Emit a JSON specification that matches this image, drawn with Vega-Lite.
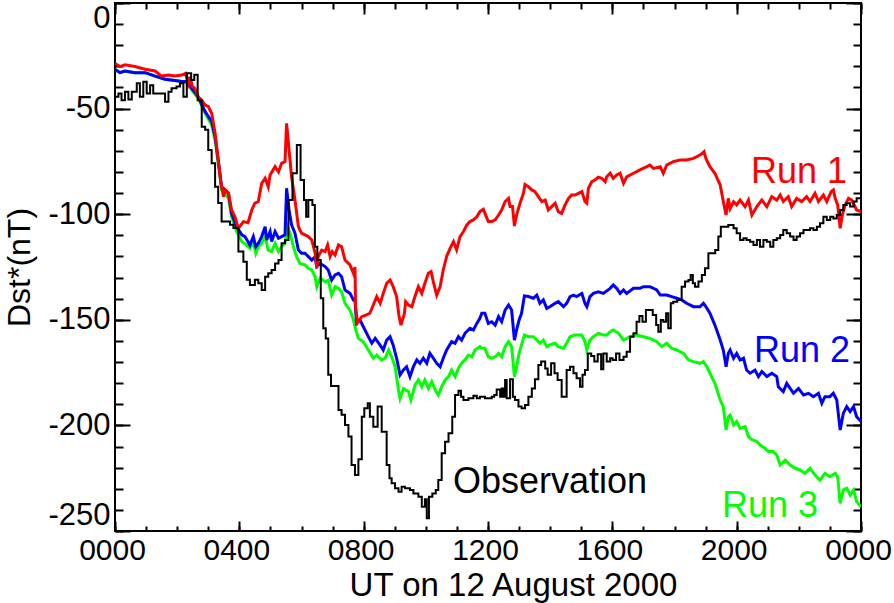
{
  "$schema": "https://vega.github.io/schema/vega-lite/v6.json",
  "width": 746,
  "height": 528,
  "autosize": {"type": "none"},
  "padding": {"left": 115, "top": 3, "right": 33, "bottom": 72},
  "background": "white",
  "config": {
    "font": "Liberation Sans",
    "view": {"stroke": "black", "strokeWidth": 2},
    "axis": {"domain": false, "grid": false, "tickColor": "black", "tickWidth": 2, "labelColor": "black", "titleColor": "black", "titleFontWeight": "normal", "labelFont": "Liberation Sans", "titleFont": "Liberation Sans"}
  },
  "datasets": {
    "run1": [
      {"h":0,"v":-28.6},{"h":0.16,"v":-30.1},{"h":0.32,"v":-29.3},{"h":0.64,"v":-30.1},{"h":0.97,"v":-31.4},{"h":1.29,"v":-32.2},{"h":1.5,"v":-34.6},{"h":1.72,"v":-34.1},{"h":1.93,"v":-34.6},{"h":2.15,"v":-34.1},{"h":2.27,"v":-33.3},{"h":2.36,"v":-38},{"h":2.41,"v":-35},{"h":2.49,"v":-39.5},{"h":2.57,"v":-40.4},{"h":2.68,"v":-44.4},{"h":2.79,"v":-46},{"h":2.9,"v":-48.3},{"h":3.0,"v":-49},{"h":3.11,"v":-52.2},{"h":3.22,"v":-61.7},{"h":3.32,"v":-74.3},{"h":3.41,"v":-85.4},{"h":3.49,"v":-91.7},{"h":3.54,"v":-88.5},{"h":3.65,"v":-90},{"h":3.75,"v":-98},{"h":3.86,"v":-101.2},{"h":3.97,"v":-106.7},{"h":4.13,"v":-103.5},{"h":4.28,"v":-104},{"h":4.4,"v":-98},{"h":4.5,"v":-94.8},{"h":4.61,"v":-94},{"h":4.72,"v":-85.4},{"h":4.83,"v":-83},{"h":4.93,"v":-87},{"h":4.99,"v":-81.4},{"h":5.15,"v":-77.5},{"h":5.26,"v":-80},{"h":5.36,"v":-75.9},{"h":5.47,"v":-75.1},{"h":5.52,"v":-57},{"h":5.6,"v":-69.6},{"h":5.68,"v":-82.2},{"h":5.79,"v":-93.3},{"h":5.9,"v":-105.9},{"h":6.0,"v":-109},{"h":6.11,"v":-109.8},{"h":6.22,"v":-110.6},{"h":6.33,"v":-112.2},{"h":6.44,"v":-118.5},{"h":6.49,"v":-125.6},{"h":6.54,"v":-120},{"h":6.65,"v":-117},{"h":6.76,"v":-117.7},{"h":6.84,"v":-114.6},{"h":6.92,"v":-120},{"h":6.99,"v":-117.7},{"h":7.08,"v":-119.3},{"h":7.19,"v":-114.6},{"h":7.29,"v":-115.4},{"h":7.4,"v":-121.7},{"h":7.56,"v":-124},{"h":7.67,"v":-128},{"h":7.72,"v":-125},{"h":7.74,"v":-143.8},{"h":7.8,"v":-151.5},{"h":7.94,"v":-148.5},{"h":8.09,"v":-147.7},{"h":8.2,"v":-146.9},{"h":8.31,"v":-143},{"h":8.42,"v":-139},{"h":8.53,"v":-142.2},{"h":8.63,"v":-137.5},{"h":8.74,"v":-132.7},{"h":8.85,"v":-131.2},{"h":8.95,"v":-134.3},{"h":9.06,"v":-139},{"h":9.14,"v":-148.5},{"h":9.2,"v":-152.5},{"h":9.31,"v":-147},{"h":9.35,"v":-141.4},{"h":9.44,"v":-143},{"h":9.55,"v":-143.8},{"h":9.65,"v":-139},{"h":9.76,"v":-134.3},{"h":9.87,"v":-137.5},{"h":9.97,"v":-132.7},{"h":10.08,"v":-128},{"h":10.17,"v":-127.2},{"h":10.24,"v":-131.9},{"h":10.35,"v":-138.3},{"h":10.46,"v":-134.3},{"h":10.56,"v":-126.4},{"h":10.67,"v":-120},{"h":10.78,"v":-116.2},{"h":10.89,"v":-113},{"h":10.99,"v":-116.9},{"h":11.1,"v":-110.6},{"h":11.21,"v":-108.2},{"h":11.32,"v":-105.1},{"h":11.42,"v":-103.5},{"h":11.53,"v":-102.7},{"h":11.64,"v":-101.2},{"h":11.74,"v":-98.8},{"h":11.85,"v":-97.7},{"h":12.01,"v":-103.5},{"h":12.12,"v":-103.5},{"h":12.23,"v":-102.7},{"h":12.34,"v":-100.4},{"h":12.44,"v":-98},{"h":12.55,"v":-94},{"h":12.66,"v":-92.5},{"h":12.71,"v":-96.4},{"h":12.79,"v":-96.4},{"h":12.85,"v":-105.6},{"h":12.92,"v":-100.4},{"h":13.03,"v":-94.8},{"h":13.14,"v":-90.1},{"h":13.19,"v":-85.9},{"h":13.3,"v":-87},{"h":13.41,"v":-88.5},{"h":13.51,"v":-89.3},{"h":13.62,"v":-91.7},{"h":13.73,"v":-94},{"h":13.84,"v":-93.3},{"h":13.94,"v":-98},{"h":14.05,"v":-96.4},{"h":14.16,"v":-94.8},{"h":14.26,"v":-98.8},{"h":14.37,"v":-99.6},{"h":14.48,"v":-95.6},{"h":14.59,"v":-92.5},{"h":14.69,"v":-90.9},{"h":14.8,"v":-90.9},{"h":14.91,"v":-90.1},{"h":15.02,"v":-89.3},{"h":15.12,"v":-94},{"h":15.18,"v":-94.8},{"h":15.23,"v":-87.7},{"h":15.34,"v":-84.6},{"h":15.44,"v":-83.8},{"h":15.55,"v":-82.5},{"h":15.66,"v":-83},{"h":15.77,"v":-84.6},{"h":15.82,"v":-82.3},{"h":15.93,"v":-80.6},{"h":16.03,"v":-83},{"h":16.14,"v":-81.4},{"h":16.25,"v":-80.6},{"h":16.36,"v":-85.4},{"h":16.46,"v":-82.3},{"h":16.68,"v":-80.6},{"h":16.89,"v":-79},{"h":17.11,"v":-77.5},{"h":17.21,"v":-76.7},{"h":17.32,"v":-78.3},{"h":17.54,"v":-77.5},{"h":17.64,"v":-80.6},{"h":17.75,"v":-76.7},{"h":17.96,"v":-75.1},{"h":18.18,"v":-74.3},{"h":18.39,"v":-74.3},{"h":18.61,"v":-73.6},{"h":18.82,"v":-72},{"h":18.95,"v":-70.4},{"h":19.01,"v":-73.6},{"h":19.14,"v":-77.5},{"h":19.3,"v":-80.6},{"h":19.47,"v":-86.2},{"h":19.57,"v":-94},{"h":19.66,"v":-100.4},{"h":19.73,"v":-92.5},{"h":19.79,"v":-97.3},{"h":19.9,"v":-94.1},{"h":20.0,"v":-95.6},{"h":20.11,"v":-93.3},{"h":20.27,"v":-96.4},{"h":20.38,"v":-93.3},{"h":20.49,"v":-100.4},{"h":20.65,"v":-96.4},{"h":20.81,"v":-93.3},{"h":20.97,"v":-96.4},{"h":21.13,"v":-91.7},{"h":21.29,"v":-93.3},{"h":21.4,"v":-90.9},{"h":21.5,"v":-94},{"h":21.66,"v":-91.7},{"h":21.77,"v":-96.4},{"h":21.93,"v":-92.5},{"h":22.09,"v":-94},{"h":22.25,"v":-91.7},{"h":22.36,"v":-94},{"h":22.52,"v":-90.1},{"h":22.63,"v":-94},{"h":22.79,"v":-90.9},{"h":22.9,"v":-94},{"h":23.04,"v":-89.3},{"h":23.11,"v":-88.5},{"h":23.17,"v":-92.5},{"h":23.25,"v":-95.6},{"h":23.33,"v":-106.7},{"h":23.4,"v":-100.4},{"h":23.49,"v":-95.6},{"h":23.6,"v":-92.5},{"h":23.7,"v":-93.3},{"h":23.81,"v":-96.4},{"h":23.86,"v":-98},{"h":24.0,"v":-98.8}
    ],
    "run2": [
      {"h":0,"v":-31.4},{"h":0.16,"v":-33},{"h":0.32,"v":-32.2},{"h":0.64,"v":-33},{"h":0.97,"v":-33},{"h":1.29,"v":-34.6},{"h":1.61,"v":-36.1},{"h":1.93,"v":-36.7},{"h":2.15,"v":-37.2},{"h":2.31,"v":-37.2},{"h":2.47,"v":-40.4},{"h":2.68,"v":-44.4},{"h":2.9,"v":-51.4},{"h":3.11,"v":-56.2},{"h":3.22,"v":-63.3},{"h":3.32,"v":-74.3},{"h":3.43,"v":-87},{"h":3.54,"v":-88.5},{"h":3.65,"v":-90.1},{"h":3.75,"v":-99.6},{"h":3.91,"v":-105.9},{"h":4.08,"v":-109.8},{"h":4.18,"v":-110.6},{"h":4.34,"v":-114.6},{"h":4.45,"v":-110.6},{"h":4.53,"v":-115.4},{"h":4.61,"v":-113.8},{"h":4.72,"v":-110.6},{"h":4.83,"v":-105.9},{"h":4.88,"v":-112.2},{"h":4.99,"v":-108.2},{"h":5.04,"v":-112.9},{"h":5.15,"v":-108.2},{"h":5.26,"v":-111.4},{"h":5.36,"v":-110.6},{"h":5.47,"v":-109.8},{"h":5.52,"v":-87.7},{"h":5.6,"v":-98},{"h":5.68,"v":-105},{"h":5.79,"v":-109},{"h":5.9,"v":-117},{"h":6.0,"v":-118.5},{"h":6.11,"v":-118.5},{"h":6.22,"v":-120.1},{"h":6.33,"v":-121.7},{"h":6.44,"v":-120.1},{"h":6.49,"v":-124.8},{"h":6.6,"v":-123.3},{"h":6.76,"v":-124.8},{"h":6.86,"v":-126.4},{"h":6.97,"v":-131.2},{"h":7.08,"v":-128.8},{"h":7.19,"v":-128},{"h":7.29,"v":-129.6},{"h":7.4,"v":-135.9},{"h":7.56,"v":-137.5},{"h":7.67,"v":-140.6},{"h":7.72,"v":-140.6},{"h":7.77,"v":-151.5},{"h":7.88,"v":-150},{"h":7.99,"v":-153.3},{"h":8.15,"v":-158},{"h":8.26,"v":-161.1},{"h":8.37,"v":-158.8},{"h":8.53,"v":-162},{"h":8.63,"v":-164.3},{"h":8.74,"v":-159.6},{"h":8.85,"v":-158},{"h":8.95,"v":-162},{"h":9.06,"v":-168.2},{"h":9.17,"v":-176.1},{"h":9.28,"v":-173.7},{"h":9.38,"v":-172.2},{"h":9.49,"v":-176.9},{"h":9.6,"v":-172.2},{"h":9.71,"v":-169},{"h":9.81,"v":-170.6},{"h":9.92,"v":-168.2},{"h":10.03,"v":-170.6},{"h":10.13,"v":-165.9},{"h":10.24,"v":-168.2},{"h":10.35,"v":-170.6},{"h":10.46,"v":-172.2},{"h":10.56,"v":-168.2},{"h":10.67,"v":-164.3},{"h":10.83,"v":-160.4},{"h":10.94,"v":-161.1},{"h":11.05,"v":-158},{"h":11.15,"v":-159.6},{"h":11.26,"v":-156.4},{"h":11.42,"v":-154},{"h":11.53,"v":-154.8},{"h":11.64,"v":-151.7},{"h":11.74,"v":-149.3},{"h":11.8,"v":-146.9},{"h":11.9,"v":-146.9},{"h":12.01,"v":-151.7},{"h":12.12,"v":-150.9},{"h":12.23,"v":-152.5},{"h":12.34,"v":-148.5},{"h":12.44,"v":-150.9},{"h":12.55,"v":-145.4},{"h":12.66,"v":-143},{"h":12.76,"v":-145.4},{"h":12.85,"v":-159.6},{"h":12.92,"v":-154.8},{"h":13.0,"v":-150.1},{"h":13.08,"v":-146.9},{"h":13.17,"v":-138.7},{"h":13.3,"v":-139},{"h":13.46,"v":-139.8},{"h":13.57,"v":-138.3},{"h":13.67,"v":-142.2},{"h":13.78,"v":-140.6},{"h":13.89,"v":-144.6},{"h":13.99,"v":-143.8},{"h":14.16,"v":-142.2},{"h":14.26,"v":-141.4},{"h":14.43,"v":-143.8},{"h":14.53,"v":-142.2},{"h":14.64,"v":-139},{"h":14.75,"v":-138.3},{"h":14.85,"v":-139},{"h":15.02,"v":-137.5},{"h":15.12,"v":-142.2},{"h":15.18,"v":-143.8},{"h":15.28,"v":-139},{"h":15.39,"v":-137.5},{"h":15.55,"v":-136.7},{"h":15.71,"v":-137.5},{"h":15.93,"v":-135.1},{"h":16.03,"v":-133.5},{"h":16.14,"v":-135.1},{"h":16.25,"v":-137.5},{"h":16.36,"v":-135.9},{"h":16.46,"v":-137.5},{"h":16.68,"v":-135.1},{"h":16.89,"v":-135.1},{"h":17.0,"v":-134.3},{"h":17.21,"v":-134.3},{"h":17.43,"v":-135.9},{"h":17.54,"v":-138.3},{"h":17.75,"v":-138.3},{"h":17.91,"v":-139},{"h":18.07,"v":-139.8},{"h":18.23,"v":-140.6},{"h":18.39,"v":-142.2},{"h":18.61,"v":-143.8},{"h":18.82,"v":-143.8},{"h":18.93,"v":-142.2},{"h":19.01,"v":-143.8},{"h":19.14,"v":-146.9},{"h":19.3,"v":-152.5},{"h":19.47,"v":-159.6},{"h":19.57,"v":-164.3},{"h":19.66,"v":-172.2},{"h":19.73,"v":-165.9},{"h":19.79,"v":-164.3},{"h":19.9,"v":-168.2},{"h":20.0,"v":-165.9},{"h":20.11,"v":-169},{"h":20.22,"v":-168.2},{"h":20.32,"v":-173.8},{"h":20.43,"v":-175.3},{"h":20.59,"v":-173.8},{"h":20.7,"v":-176.9},{"h":20.81,"v":-174.5},{"h":20.97,"v":-176.9},{"h":21.13,"v":-175.3},{"h":21.29,"v":-176.9},{"h":21.34,"v":-181.7},{"h":21.5,"v":-184},{"h":21.61,"v":-180.1},{"h":21.72,"v":-182.5},{"h":21.83,"v":-184.8},{"h":21.99,"v":-182.5},{"h":22.15,"v":-185.6},{"h":22.31,"v":-184.8},{"h":22.47,"v":-186.4},{"h":22.63,"v":-184.8},{"h":22.74,"v":-189.5},{"h":22.84,"v":-186.4},{"h":23.0,"v":-186.4},{"h":23.11,"v":-184.8},{"h":23.22,"v":-187.9},{"h":23.33,"v":-202.2},{"h":23.43,"v":-194.3},{"h":23.54,"v":-191.1},{"h":23.65,"v":-193.5},{"h":23.76,"v":-191.1},{"h":23.86,"v":-195.9},{"h":24.0,"v":-198.2}
    ],
    "run3": [
      {"h":0,"v":-31.4},{"h":0.16,"v":-33},{"h":0.32,"v":-32.2},{"h":0.64,"v":-33},{"h":0.97,"v":-33},{"h":1.29,"v":-34.6},{"h":1.61,"v":-36.1},{"h":1.93,"v":-36.7},{"h":2.15,"v":-37.2},{"h":2.31,"v":-37.9},{"h":2.47,"v":-41.2},{"h":2.68,"v":-45.2},{"h":2.9,"v":-52.2},{"h":3.11,"v":-57.8},{"h":3.22,"v":-65},{"h":3.32,"v":-75.9},{"h":3.43,"v":-88.5},{"h":3.54,"v":-90.1},{"h":3.65,"v":-92.5},{"h":3.75,"v":-101.2},{"h":3.91,"v":-108.2},{"h":4.08,"v":-113},{"h":4.18,"v":-114},{"h":4.34,"v":-116.2},{"h":4.45,"v":-113},{"h":4.53,"v":-118.5},{"h":4.61,"v":-115.4},{"h":4.72,"v":-113.8},{"h":4.83,"v":-110.6},{"h":4.93,"v":-117},{"h":5.04,"v":-117.7},{"h":5.15,"v":-113.8},{"h":5.26,"v":-117.7},{"h":5.36,"v":-115.4},{"h":5.47,"v":-113.8},{"h":5.55,"v":-105.9},{"h":5.63,"v":-109},{"h":5.74,"v":-115.4},{"h":5.84,"v":-120},{"h":5.95,"v":-123.3},{"h":6.11,"v":-124},{"h":6.22,"v":-125.6},{"h":6.33,"v":-126.4},{"h":6.44,"v":-129.6},{"h":6.49,"v":-134.3},{"h":6.6,"v":-130.4},{"h":6.76,"v":-131.9},{"h":6.86,"v":-131.2},{"h":6.97,"v":-138.3},{"h":7.08,"v":-134.3},{"h":7.19,"v":-135.1},{"h":7.29,"v":-136.7},{"h":7.4,"v":-142.2},{"h":7.56,"v":-145.4},{"h":7.67,"v":-150},{"h":7.72,"v":-153.3},{"h":7.83,"v":-158.8},{"h":7.99,"v":-160.4},{"h":8.15,"v":-164.3},{"h":8.31,"v":-168.2},{"h":8.42,"v":-166.7},{"h":8.58,"v":-169},{"h":8.69,"v":-168.2},{"h":8.8,"v":-164.3},{"h":8.9,"v":-167.5},{"h":9.01,"v":-172.2},{"h":9.12,"v":-183.2},{"h":9.17,"v":-187.2},{"h":9.28,"v":-182.5},{"h":9.44,"v":-184},{"h":9.52,"v":-188},{"h":9.65,"v":-180.9},{"h":9.76,"v":-178.5},{"h":9.87,"v":-181.7},{"h":9.97,"v":-178.5},{"h":10.08,"v":-182.5},{"h":10.19,"v":-179.3},{"h":10.3,"v":-183.2},{"h":10.4,"v":-185.6},{"h":10.51,"v":-181.7},{"h":10.62,"v":-178.5},{"h":10.73,"v":-176.9},{"h":10.83,"v":-173.8},{"h":10.94,"v":-176.9},{"h":11.05,"v":-172.9},{"h":11.15,"v":-170.6},{"h":11.26,"v":-169},{"h":11.37,"v":-166.7},{"h":11.48,"v":-167.5},{"h":11.58,"v":-164.3},{"h":11.74,"v":-162.7},{"h":11.8,"v":-163.5},{"h":11.9,"v":-163.5},{"h":12.01,"v":-167.5},{"h":12.12,"v":-168.2},{"h":12.23,"v":-167.5},{"h":12.34,"v":-165.9},{"h":12.44,"v":-167.5},{"h":12.55,"v":-162.7},{"h":12.66,"v":-160.4},{"h":12.76,"v":-162.7},{"h":12.85,"v":-176.9},{"h":12.92,"v":-172.2},{"h":13.0,"v":-165.9},{"h":13.17,"v":-157.2},{"h":13.3,"v":-158},{"h":13.46,"v":-158},{"h":13.57,"v":-159.6},{"h":13.67,"v":-161.1},{"h":13.78,"v":-159.6},{"h":13.89,"v":-162.7},{"h":13.99,"v":-161.9},{"h":14.16,"v":-161.1},{"h":14.26,"v":-162.7},{"h":14.43,"v":-163.5},{"h":14.53,"v":-161.1},{"h":14.64,"v":-158},{"h":14.8,"v":-157.2},{"h":15.02,"v":-157.2},{"h":15.12,"v":-160.4},{"h":15.18,"v":-164.3},{"h":15.28,"v":-159.6},{"h":15.39,"v":-158},{"h":15.55,"v":-156.4},{"h":15.71,"v":-157.2},{"h":15.82,"v":-157.2},{"h":15.93,"v":-155.6},{"h":16.03,"v":-154.8},{"h":16.2,"v":-156.4},{"h":16.36,"v":-159.6},{"h":16.57,"v":-158},{"h":16.78,"v":-157.2},{"h":17.0,"v":-158},{"h":17.21,"v":-158.8},{"h":17.43,"v":-160.4},{"h":17.59,"v":-162.7},{"h":17.75,"v":-161.1},{"h":17.91,"v":-163.5},{"h":18.07,"v":-164.3},{"h":18.29,"v":-165.9},{"h":18.45,"v":-169},{"h":18.61,"v":-169.8},{"h":18.82,"v":-170.6},{"h":18.93,"v":-169.8},{"h":19.04,"v":-172.2},{"h":19.14,"v":-175.3},{"h":19.3,"v":-180.1},{"h":19.47,"v":-188},{"h":19.57,"v":-191.1},{"h":19.66,"v":-202.2},{"h":19.73,"v":-195.9},{"h":19.79,"v":-195.1},{"h":19.9,"v":-199.8},{"h":20.0,"v":-198.2},{"h":20.11,"v":-201.4},{"h":20.27,"v":-200.6},{"h":20.38,"v":-205.3},{"h":20.49,"v":-206.8},{"h":20.65,"v":-207.6},{"h":20.75,"v":-209.2},{"h":20.91,"v":-210.8},{"h":21.02,"v":-212.4},{"h":21.18,"v":-212.4},{"h":21.29,"v":-214},{"h":21.4,"v":-218.75},{"h":21.56,"v":-216.4},{"h":21.72,"v":-218.75},{"h":21.88,"v":-220.3},{"h":22.04,"v":-221.1},{"h":22.2,"v":-222.7},{"h":22.36,"v":-220.3},{"h":22.52,"v":-223.5},{"h":22.68,"v":-225.9},{"h":22.84,"v":-222.7},{"h":23.0,"v":-224.3},{"h":23.17,"v":-222.7},{"h":23.25,"v":-224.3},{"h":23.33,"v":-236.9},{"h":23.43,"v":-230.6},{"h":23.54,"v":-229.8},{"h":23.65,"v":-232.9},{"h":23.76,"v":-230.6},{"h":23.86,"v":-236.1},{"h":24.0,"v":-238.5}
    ],
    "obs": [
      {"h":0,"v":-44.4},{"h":0.11,"v":-42.8},{"h":0.21,"v":-46},{"h":0.32,"v":-42},{"h":0.43,"v":-45.7},{"h":0.54,"v":-42},{"h":0.7,"v":-38},{"h":0.8,"v":-44.4},{"h":0.91,"v":-37.3},{"h":1.02,"v":-42.8},{"h":1.13,"v":-39},{"h":1.23,"v":-42.8},{"h":1.61,"v":-46.7},{"h":1.72,"v":-42},{"h":1.82,"v":-40.4},{"h":1.98,"v":-39.5},{"h":2.09,"v":-38},{"h":2.2,"v":-44.4},{"h":2.31,"v":-33.3},{"h":2.45,"v":-36.5},{"h":2.55,"v":-34},{"h":2.66,"v":-46},{"h":2.79,"v":-58.6},{"h":2.9,"v":-60},{"h":3.0,"v":-69.6},{"h":3.11,"v":-75.9},{"h":3.22,"v":-87},{"h":3.32,"v":-94.7},{"h":3.43,"v":-103.5},{"h":3.7,"v":-105},{"h":3.81,"v":-106.5},{"h":3.97,"v":-117.7},{"h":4.13,"v":-122.5},{"h":4.24,"v":-131},{"h":4.34,"v":-133.5},{"h":4.5,"v":-131},{"h":4.61,"v":-132.7},{"h":4.72,"v":-135.9},{"h":4.83,"v":-129.6},{"h":4.93,"v":-128},{"h":5.04,"v":-126.4},{"h":5.15,"v":-123.3},{"h":5.26,"v":-121.7},{"h":5.36,"v":-113.8},{"h":5.47,"v":-112.2},{"h":5.58,"v":-93.3},{"h":5.71,"v":-80.6},{"h":5.85,"v":-67.2},{"h":5.97,"v":-83.8},{"h":6.08,"v":-93.3},{"h":6.15,"v":-101.2},{"h":6.22,"v":-93.3},{"h":6.35,"v":-95.6},{"h":6.43,"v":-115.4},{"h":6.51,"v":-121.7},{"h":6.62,"v":-139.8},{"h":6.7,"v":-154},{"h":6.78,"v":-158.8},{"h":6.86,"v":-176},{"h":6.95,"v":-181.3},{"h":7.19,"v":-192.7},{"h":7.29,"v":-195},{"h":7.4,"v":-199.8},{"h":7.51,"v":-205.3},{"h":7.61,"v":-218.75},{"h":7.72,"v":-223.5},{"h":7.83,"v":-216},{"h":7.94,"v":-195.9},{"h":8.02,"v":-191.9},{"h":8.13,"v":-189.5},{"h":8.2,"v":-195.9},{"h":8.31,"v":-200.6},{"h":8.45,"v":-191.1},{"h":8.58,"v":-203},{"h":8.74,"v":-218.75},{"h":8.83,"v":-225},{"h":8.9,"v":-227.4},{"h":9.01,"v":-229.8},{"h":9.12,"v":-231.4},{"h":9.22,"v":-229},{"h":9.33,"v":-229.8},{"h":9.49,"v":-230.6},{"h":9.6,"v":-232.2},{"h":9.76,"v":-233.8},{"h":9.87,"v":-238.5},{"h":9.97,"v":-235},{"h":10.03,"v":-244},{"h":10.1,"v":-233.8},{"h":10.21,"v":-232.2},{"h":10.32,"v":-230.6},{"h":10.4,"v":-225.9},{"h":10.51,"v":-213.2},{"h":10.62,"v":-207.7},{"h":10.73,"v":-203.7},{"h":10.85,"v":-195.9},{"h":10.94,"v":-185.6},{"h":11.05,"v":-183.6},{"h":11.13,"v":-186.4},{"h":11.21,"v":-188},{"h":11.37,"v":-187.2},{"h":11.53,"v":-186},{"h":11.64,"v":-187.2},{"h":11.74,"v":-186.4},{"h":11.9,"v":-187.2},{"h":12.12,"v":-186.4},{"h":12.2,"v":-185.6},{"h":12.28,"v":-183},{"h":12.39,"v":-186.4},{"h":12.44,"v":-182.5},{"h":12.5,"v":-186.4},{"h":12.55,"v":-178.5},{"h":12.6,"v":-187.2},{"h":12.71,"v":-178.2},{"h":12.8,"v":-186.4},{"h":12.87,"v":-188},{"h":12.98,"v":-191.1},{"h":13.08,"v":-191.9},{"h":13.19,"v":-190.3},{"h":13.3,"v":-186.4},{"h":13.41,"v":-182.5},{"h":13.51,"v":-178.2},{"h":13.62,"v":-171.4},{"h":13.71,"v":-169.8},{"h":13.84,"v":-173},{"h":13.92,"v":-176},{"h":14.03,"v":-170.6},{"h":14.14,"v":-175.3},{"h":14.24,"v":-178.5},{"h":14.37,"v":-186.4},{"h":14.53,"v":-173.8},{"h":14.64,"v":-172.2},{"h":14.75,"v":-175.3},{"h":14.85,"v":-177.7},{"h":14.96,"v":-181.7},{"h":15.04,"v":-176},{"h":15.12,"v":-173.8},{"h":15.21,"v":-165.9},{"h":15.32,"v":-167.1},{"h":15.42,"v":-169.8},{"h":15.53,"v":-166.3},{"h":15.64,"v":-173.4},{"h":15.71,"v":-165.9},{"h":15.82,"v":-169.8},{"h":15.93,"v":-168.2},{"h":16.01,"v":-169},{"h":16.12,"v":-165.9},{"h":16.23,"v":-169},{"h":16.36,"v":-167.5},{"h":16.46,"v":-165.1},{"h":16.57,"v":-158},{"h":16.68,"v":-156.4},{"h":16.78,"v":-150.9},{"h":16.87,"v":-148.2},{"h":16.97,"v":-150.9},{"h":17.08,"v":-145.4},{"h":17.3,"v":-147.7},{"h":17.41,"v":-152.5},{"h":17.48,"v":-155.6},{"h":17.56,"v":-150.1},{"h":17.64,"v":-150.9},{"h":17.73,"v":-146.9},{"h":17.8,"v":-154},{"h":17.88,"v":-142.2},{"h":17.96,"v":-141.4},{"h":18.09,"v":-140.6},{"h":18.23,"v":-134.3},{"h":18.34,"v":-131.9},{"h":18.45,"v":-131.1},{"h":18.52,"v":-128.8},{"h":18.59,"v":-132.7},{"h":18.66,"v":-134.3},{"h":18.77,"v":-131.9},{"h":18.88,"v":-128.8},{"h":18.98,"v":-125.6},{"h":19.09,"v":-118.5},{"h":19.31,"v":-117},{"h":19.41,"v":-110.6},{"h":19.49,"v":-105.9},{"h":19.73,"v":-105.1},{"h":19.9,"v":-106.7},{"h":20.0,"v":-109},{"h":20.11,"v":-112.2},{"h":20.22,"v":-111.4},{"h":20.32,"v":-112.2},{"h":20.43,"v":-113},{"h":20.54,"v":-114.6},{"h":20.65,"v":-112.2},{"h":20.75,"v":-115.4},{"h":20.86,"v":-112.2},{"h":20.97,"v":-113},{"h":21.08,"v":-115.4},{"h":21.18,"v":-112.2},{"h":21.29,"v":-111.4},{"h":21.4,"v":-109.8},{"h":21.5,"v":-107.5},{"h":21.61,"v":-109},{"h":21.72,"v":-110.6},{"h":21.83,"v":-112.2},{"h":21.93,"v":-110.6},{"h":22.04,"v":-109},{"h":22.15,"v":-107.5},{"h":22.36,"v":-106.7},{"h":22.47,"v":-107.5},{"h":22.58,"v":-105.9},{"h":22.68,"v":-104.3},{"h":22.79,"v":-101.2},{"h":22.9,"v":-102.7},{"h":23.01,"v":-101.2},{"h":23.11,"v":-102},{"h":23.22,"v":-100.4},{"h":23.33,"v":-98},{"h":23.43,"v":-95.6},{"h":23.54,"v":-94.8},{"h":23.65,"v":-96.4},{"h":23.76,"v":-94},{"h":23.86,"v":-92.5},{"h":24.0,"v":-92.5}
    ],
    "labels": [
      {"label":"Run 1","series":"Run 1","h":20.46,"v":-85.2},
      {"label":"Run 2","series":"Run 2","h":20.56,"v":-169.8},
      {"label":"Run 3","series":"Run 3","h":19.53,"v":-243.2},
      {"label":"Observation","series":"Observation","h":10.875,"v":-231.8}
    ]
  },
  "layer": [
    {
      "data": {"name": "run3"},
      "mark": {"type": "line", "color": "#00ff00", "strokeWidth": 3, "clip": true},
      "encoding": {
        "x": {"field": "h", "type": "quantitative", "scale": {"domain": [0, 24], "nice": false, "zero": false},
          "axis": {"orient": "bottom", "values": [0, 4, 8, 12, 16, 20, 24], "labelExpr": "pad(toString((datum.value % 24) * 100), 4, '0', 'left')", "tickSize": -10, "labelFontSize": 30, "labelPadding": 14, "labelOffset": -3, "labelFlush": false, "labelOverlap": false, "title": "UT on 12 August 2000", "titleFontSize": 33, "titlePadding": 4, "titleX": 398}},
        "y": {"field": "v", "type": "quantitative", "scale": {"domain": [-250, 0], "nice": false, "zero": false},
          "axis": {"orient": "left", "values": [0, -50, -100, -150, -200, -250], "labelExpr": "toString(datum.value)", "tickSize": -15, "labelFontSize": 31, "labelPadding": 20, "labelFlush": true, "labelOverlap": false, "title": "Dst*(nT)", "titleFontSize": 32, "titlePadding": 11}}
      }
    },
    {
      "data": {"name": "run2"},
      "mark": {"type": "line", "color": "#0000ff", "strokeWidth": 3, "clip": true},
      "encoding": {
        "x": {"field": "h", "type": "quantitative", "axis": {"orient": "top", "values": [0, 4, 8, 12, 16, 20, 24], "tickSize": -11, "labels": false, "title": null}},
        "y": {"field": "v", "type": "quantitative", "axis": {"orient": "right", "values": [0, -50, -100, -150, -200, -250], "tickSize": -15, "labels": false, "title": null}}
      }
    },
    {
      "data": {"name": "run1"},
      "mark": {"type": "line", "color": "#ff0000", "strokeWidth": 3, "clip": true},
      "encoding": {
        "x": {"field": "h", "type": "quantitative", "axis": {"orient": "bottom", "values": [0,1,2,3,4,5,6,7,8,9,10,11,12,13,14,15,16,17,18,19,20,21,22,23,24], "tickSize": -5, "labels": false, "title": null}},
        "y": {"field": "v", "type": "quantitative", "axis": {"orient": "left", "values": [0,-10,-20,-30,-40,-50,-60,-70,-80,-90,-100,-110,-120,-130,-140,-150,-160,-170,-180,-190,-200,-210,-220,-230,-240,-250], "tickSize": -8, "labels": false, "title": null}}
      }
    },
    {
      "data": {"name": "obs"},
      "mark": {"type": "line", "color": "black", "strokeWidth": 2, "interpolate": "step-after", "clip": true},
      "encoding": {
        "x": {"field": "h", "type": "quantitative", "axis": {"orient": "top", "values": [0,1,2,3,4,5,6,7,8,9,10,11,12,13,14,15,16,17,18,19,20,21,22,23,24], "tickSize": -6, "labels": false, "title": null}},
        "y": {"field": "v", "type": "quantitative", "axis": {"orient": "right", "values": [0,-10,-20,-30,-40,-50,-60,-70,-80,-90,-100,-110,-120,-130,-140,-150,-160,-170,-180,-190,-200,-210,-220,-230,-240,-250], "tickSize": -8, "labels": false, "title": null}}
      }
    },
    {
      "data": {"name": "labels"},
      "mark": {"type": "text", "align": "left", "baseline": "alphabetic", "fontSize": 36, "font": "Liberation Sans"},
      "encoding": {
        "x": {"field": "h", "type": "quantitative", "axis": null},
        "y": {"field": "v", "type": "quantitative", "axis": null},
        "text": {"field": "label"},
        "color": {"field": "series", "type": "nominal", "legend": null, "scale": {"domain": ["Run 1", "Run 2", "Run 3", "Observation"], "range": ["#ff0000", "#0000ff", "#00ff00", "black"]}}
      }
    }
  ],
  "resolve": {"axis": {"x": "independent", "y": "independent"}}
}
